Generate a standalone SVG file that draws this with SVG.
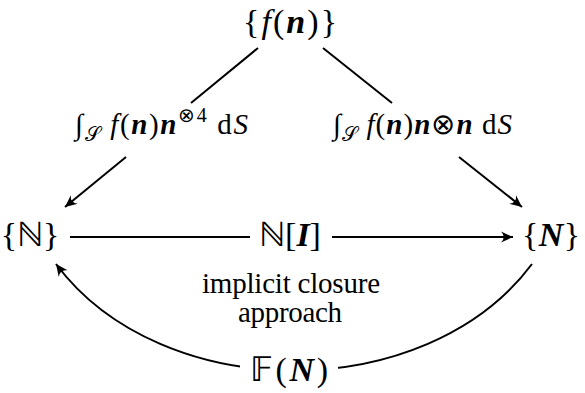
<svg xmlns="http://www.w3.org/2000/svg" width="585" height="393" viewBox="0 0 585 393" font-family="'Liberation Serif', 'Times New Roman', serif">
<style>
text{font-family:'Liberation Serif','Times New Roman',serif;fill:#000}
.node{font-size:34px}
.lbl{font-size:29px}
.it{font-style:italic}
.bi{font-style:italic;font-weight:bold}
.sm{font-size:20px}
.edge{fill:none;stroke:#000;stroke-width:2}
</style>
<defs>
<marker id="ah" viewBox="-13 -6 14 12" refX="0" refY="0" markerWidth="14" markerHeight="12" markerUnits="userSpaceOnUse" orient="auto">
<path d="M0,0 L-12,-5.5 Q-6.5,0 -12,5.5 Z" fill="#000"/>
</marker>
</defs>
<rect width="585" height="393" fill="#fff"/>
<g id="connectors">
<line class="edge" x1="258" y1="48" x2="191" y2="103"/>
<line class="edge" x1="126" y1="157" x2="65" y2="207" marker-end="url(#ah)"/>
<line class="edge" x1="323" y1="48" x2="392" y2="103"/>
<line class="edge" x1="459" y1="157" x2="522" y2="207" marker-end="url(#ah)"/>
<line class="edge" x1="70" y1="237" x2="250" y2="237"/>
<line class="edge" x1="332" y1="237" x2="513" y2="237" marker-end="url(#ah)"/>
<path class="edge" d="M532,264 C426,406 162,406 56,264" marker-end="url(#ah)"/>
<rect x="240" y="348" width="98" height="45" fill="#fff"/>
<text class="lbl" x="75" y="134" textLength="173" lengthAdjust="spacing">∫<tspan class="sm" dy="7">𝒮</tspan><tspan dy="-7" class="it"> f</tspan>(<tspan class="bi">n</tspan>)<tspan class="bi">n</tspan><tspan class="sm" dy="-12">⊗4</tspan><tspan dy="12"> d</tspan><tspan class="it">S</tspan></text>
<text class="lbl" x="333" y="134" textLength="179" lengthAdjust="spacing">∫<tspan class="sm" dy="7">𝒮</tspan><tspan dy="-7" class="it"> f</tspan>(<tspan class="bi">n</tspan>)<tspan class="bi">n</tspan>⊗<tspan class="bi">n</tspan> d<tspan class="it">S</tspan></text>
<text class="node" x="290" y="246" text-anchor="middle" font-size="32">ℕ[<tspan class="bi">I</tspan>]</text>
<text class="lbl" x="291" y="293" text-anchor="middle" textLength="178" lengthAdjust="spacing">implicit closure</text>
<text class="lbl" x="290" y="322" text-anchor="middle" textLength="104" lengthAdjust="spacing">approach</text>
<text class="node" x="250" y="381" textLength="78" lengthAdjust="spacing">𝔽(<tspan class="bi">N</tspan>)</text>
</g>
<g id="node-f">
<text class="node" x="243" y="33" textLength="94" lengthAdjust="spacing">{<tspan class="it">f</tspan>(<tspan class="bi">n</tspan>)}</text>
</g>
<g id="node-Nset">
<text class="node" x="30" y="246" text-anchor="middle">{ℕ}</text>
</g>
<g id="node-N">
<text class="node" x="522" y="246" textLength="58" lengthAdjust="spacing">{<tspan class="bi">N</tspan>}</text>
</g>
</svg>
